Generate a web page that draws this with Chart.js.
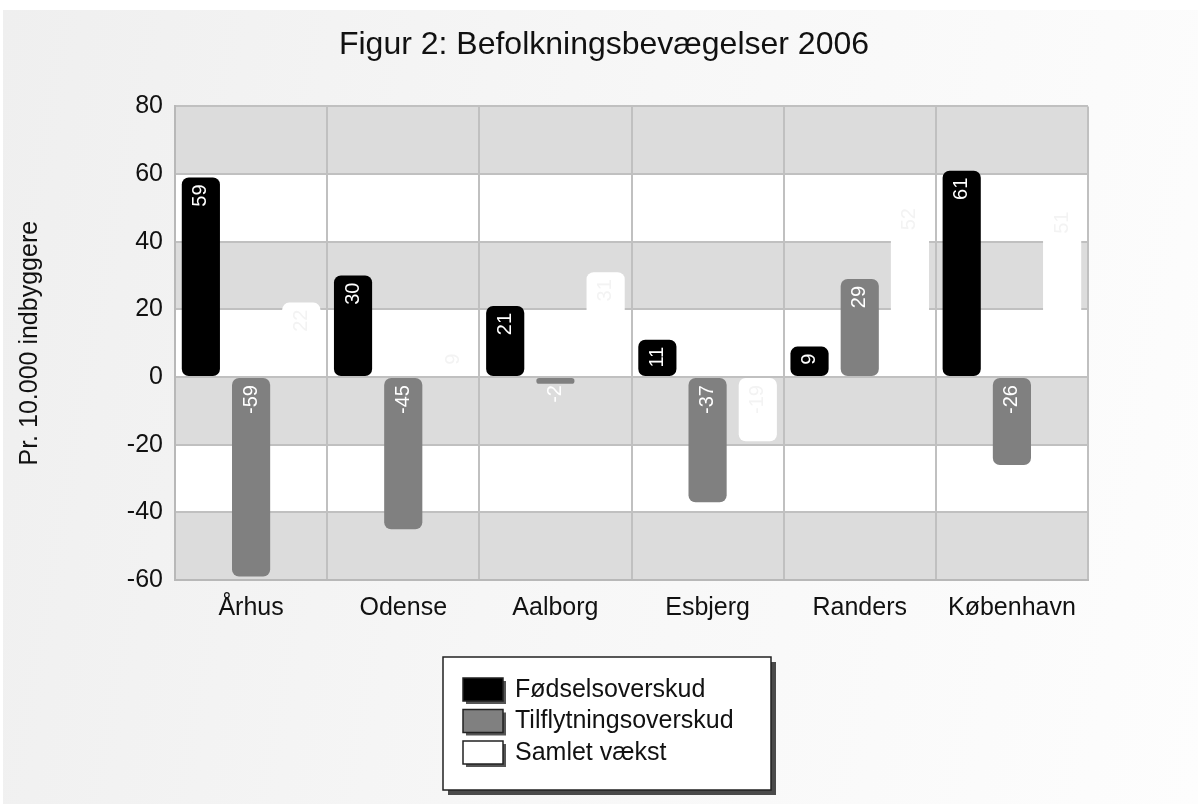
<!DOCTYPE html>
<html>
<head>
<meta charset="utf-8">
<script src="https://cdn.jsdelivr.net/npm/chart.js@4.4.1/dist/chart.umd.min.js"></script>
<style>
  html, body { margin: 0; padding: 0; background: #ffffff; overflow: hidden; }
  #bg { position: absolute; left: 3px; top: 10px; width: 1195px; height: 794px;
        background: linear-gradient(100deg, #efefef 0%, #f7f7f7 50%, #fdfdfd 100%); }
  #wrap { position: absolute; left: 0; top: 0; width: 1198px; height: 804px; }
</style>
</head>
<body>
<div id="bg"></div>
<div id="wrap"><canvas id="c"></canvas></div>
<script>
// ---- data ----
const titleText = 'Figur 2: Befolkningsbevægelser 2006';
const yAxisTitle = 'Pr. 10.000 indbyggere';
const categories = ['Århus', 'Odense', 'Aalborg', 'Esbjerg', 'Randers', 'København'];
const seriesNames = ['Fødselsoverskud', 'Tilflytningsoverskud', 'Samlet vækst'];
const fodselsoverskud = [59, 30, 21, 11, 9, 61];
const tilflytningsoverskud = [-59, -45, -2, -37, 29, -26];
const samletVaekst = [22, 9, 31, -19, 52, 51];
const yMin = -60, yMax = 80, yStep = 20;

// ---- styles ----
const FONT = '"Liberation Sans", Arial, Helvetica, sans-serif';
const barColors = ['#000000', '#808080', '#ffffff'];
const labelColors = ['#ffffff', '#ffffff', '#f3f3f3'];

const bandsPlugin = {
  id: 'bands',
  beforeDraw(chart) {
    const ys = chart.scales.y, ca = chart.chartArea, ctx = chart.ctx;
    const ticks = ys.ticks;
    const n = ticks.length - 1;
    ctx.save();
    for (let i = 0; i < n; i++) {
      const p0 = ys.getPixelForValue(ticks[i].value);
      const p1 = ys.getPixelForValue(ticks[i + 1].value);
      const fromTop = n - 1 - i;
      ctx.fillStyle = (fromTop % 2 === 0) ? '#dcdcdc' : '#ffffff';
      ctx.fillRect(ca.left, Math.min(p0, p1), ca.right - ca.left, Math.abs(p1 - p0));
    }
    ctx.restore();
  }
};

const barLabelPlugin = {
  id: 'barLabels',
  afterDatasetsDraw(chart) {
    const ctx = chart.ctx;
    ctx.save();
    ctx.font = '20px ' + FONT;
    ctx.textAlign = 'right';
    ctx.textBaseline = 'middle';
    chart.data.datasets.forEach((ds, di) => {
      const meta = chart.getDatasetMeta(di);
      meta.data.forEach((el, i) => {
        const top = Math.min(el.y, el.base);
        ctx.save();
        ctx.translate(el.x, top + 7);
        ctx.rotate(-Math.PI / 2);
        ctx.fillStyle = labelColors[di];
        ctx.fillText(String(ds.data[i]), 0, 0);
        ctx.restore();
      });
    });
    ctx.restore();
  }
};

const legendBoxPlugin = {
  id: 'legendBox',
  afterDraw(chart) {
    const ctx = chart.ctx;
    const bx = 443, by = 657, bw = 328, bh = 133;
    ctx.save();
    ctx.fillStyle = '#4a4a4a';
    ctx.fillRect(bx + 5, by + 5, bw, bh);
    ctx.fillStyle = '#ffffff';
    ctx.fillRect(bx, by, bw, bh);
    ctx.strokeStyle = '#222222';
    ctx.lineWidth = 1.5;
    ctx.strokeRect(bx, by, bw, bh);
    ctx.font = '25px ' + FONT;
    ctx.textAlign = 'left';
    ctx.textBaseline = 'middle';
    chart.data.datasets.forEach((ds, di) => {
      const sy = by + 21 + di * 31.5;
      ctx.fillStyle = '#555555';
      ctx.fillRect(bx + 23, sy + 3, 40, 23);
      ctx.fillStyle = ds.backgroundColor;
      ctx.fillRect(bx + 20, sy, 40, 23);
      ctx.strokeStyle = '#222222';
      ctx.lineWidth = 1.5;
      ctx.strokeRect(bx + 20, sy, 40, 23);
      ctx.fillStyle = '#111111';
      ctx.fillText(ds.label, bx + 72, sy + 12);
    });
    ctx.restore();
  }
};

const datasets = [fodselsoverskud, tilflytningsoverskud, samletVaekst].map((arr, i) => ({
  label: seriesNames[i],
  data: arr,
  yAxisID: 'y',
  xAxisID: 'x',
  backgroundColor: barColors[i],
  borderWidth: 0,
  borderRadius: 7,
  borderSkipped: false,
  categoryPercentage: 0.99,
  barPercentage: 0.76
}));

new Chart(document.getElementById('c'), {
  type: 'bar',
  data: { labels: categories, datasets },
  options: {
    responsive: true,
    maintainAspectRatio: false,
    animation: false,
    layout: { padding: { left: 10, right: 0, top: 0, bottom: 174 } },
    plugins: {
      legend: { display: false },
      tooltip: { enabled: false },
      title: {
        display: true,
        text: titleText,
        color: '#111111',
        font: { family: FONT, size: 32, weight: 'normal' },
        padding: { top: 26, bottom: 42 }
      }
    },
    scales: {
      x: {
        afterFit(scale) { scale.height = 50; },
        grid: { color: '#c0c0c0', lineWidth: 2, drawTicks: false, offset: true },
        border: { color: '#b8b8b8', width: 2 },
        ticks: { color: '#111111', padding: 13, font: { family: FONT, size: 25 } }
      },
      y: {
        min: yMin, max: yMax,
        afterFit(scale) { scale.width = 165; },
        grid: { color: '#c0c0c0', lineWidth: 2, drawTicks: false },
        border: { color: '#b8b8b8', width: 2 },
        ticks: { stepSize: yStep, color: '#111111', padding: 12, font: { family: FONT, size: 25 } },
        title: {
          display: true, text: yAxisTitle, color: '#111111',
          font: { family: FONT, size: 25 }, padding: { top: 5, bottom: 0 }
        }
      },
      y2: {
        position: 'right',
        min: yMin, max: yMax,
        afterFit(scale) { scale.width = 110; },
        grid: { drawOnChartArea: false, drawTicks: false },
        border: { display: false },
        ticks: { display: false }
      }
    }
  },
  plugins: [bandsPlugin, barLabelPlugin, legendBoxPlugin]
});
</script>
</body>
</html>
